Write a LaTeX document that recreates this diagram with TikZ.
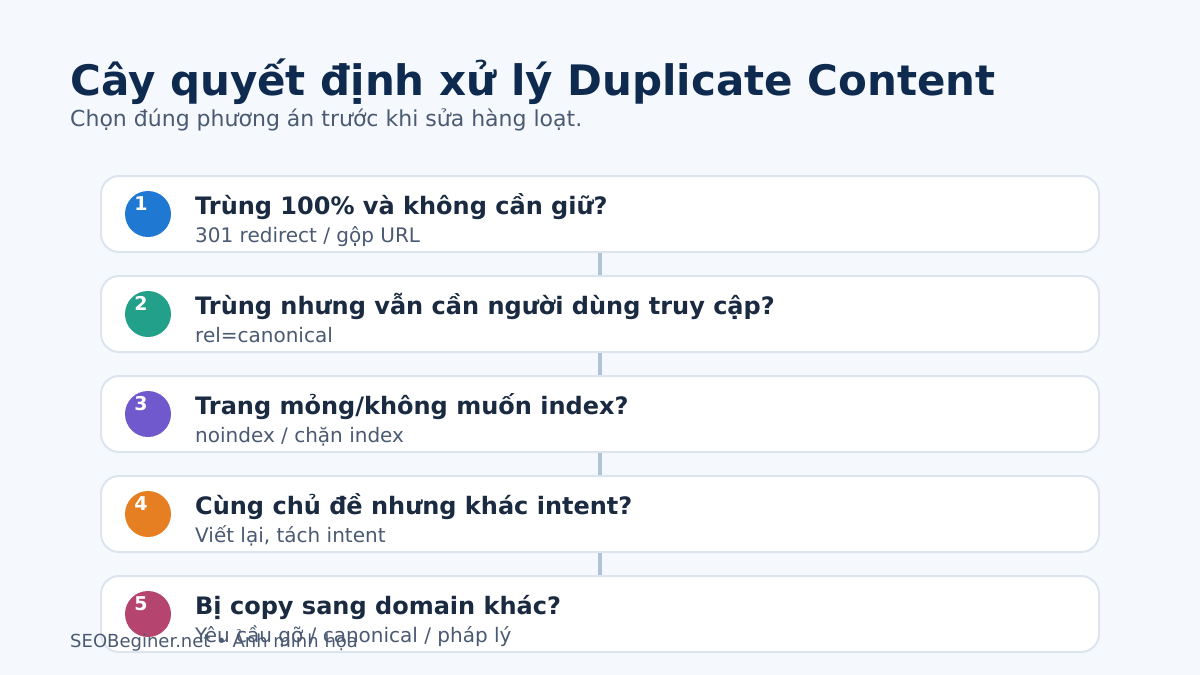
\documentclass[tikz,border=0pt]{standalone}
\usepackage{fontspec}
\setmainfont{DejaVu Sans}
\definecolor{bgc}{HTML}{F5F9FD}
\definecolor{titlec}{HTML}{0F2A4F}
\definecolor{subc}{HTML}{4A5A72}
\definecolor{headc}{HTML}{1A2A40}
\definecolor{edgec}{HTML}{DCE5EF}
\definecolor{linkc}{HTML}{AFC3D7}
\definecolor{bluec}{HTML}{1F78D1}
\definecolor{tealc}{HTML}{22A08A}
\definecolor{purplec}{HTML}{7059CC}
\definecolor{orangec}{HTML}{E67E22}
\definecolor{pinkc}{HTML}{B5446E}

\begin{document}
\begin{tikzpicture}[x=1pt,y=-1pt,
  card/.style={draw=edgec, line width=2pt, fill=white, rounded corners=18pt,
    minimum width=998pt, minimum height=76pt, inner sep=0pt},
  badge/.style={circle, minimum size=46pt, inner sep=0pt},
  num/.style={anchor=base, text=white, font=\fontsize{19}{19}\selectfont\bfseries, inner sep=0pt},
  head/.style={anchor=base west, text=headc, font=\fontsize{24}{26}\selectfont\bfseries, inner sep=0pt},
  note/.style={anchor=base west, text=subc, font=\fontsize{20}{22}\selectfont, inner sep=0pt},
  link/.style={draw=linkc, line width=3.5pt}]
\useasboundingbox[fill=bgc] (0,0) rectangle (1200,675);
% heading
\node[anchor=base west, text=titlec, font=\fontsize{42}{48}\selectfont\bfseries, inner sep=0pt] (title) at (70,95) {Cây quyết định xử lý Duplicate Content};
\node[anchor=base west, text=subc, font=\fontsize{22}{26}\selectfont, inner sep=0pt] (subtitle) at (70,126) {Chọn đúng phương án trước khi sửa hàng loạt.};
% cards
\node[card] (c1) at (600,214) {};
\node[card] (c2) at (600,314) {};
\node[card] (c3) at (600,414) {};
\node[card] (c4) at (600,514) {};
\node[card] (c5) at (600,614) {};
\draw[link] (c1.south) -- (c2.north);
\draw[link] (c2.south) -- (c3.north);
\draw[link] (c3.south) -- (c4.north);
\draw[link] (c4.south) -- (c5.north);
% badges
\node[badge, fill=bluec] (b1) at (148,214) {};
\node[num] at (141,210) {1};
\node[badge, fill=tealc] (b2) at (148,314) {};
\node[num] at (141,310) {2};
\node[badge, fill=purplec] (b3) at (148,414) {};
\node[num] at (141,410) {3};
\node[badge, fill=orangec] (b4) at (148,514) {};
\node[num] at (141,510) {4};
\node[badge, fill=pinkc] (b5) at (148,614) {};
\node[num] at (141,610) {5};
% texts
\node[head] (h1) at (195,214) {Trùng 100\% và không cần giữ?};
\node[note] (n1) at (195,242) {301 redirect / gộp URL};
\node[head] (h2) at (195,314) {Trùng nhưng vẫn cần người dùng truy cập?};
\node[note] (n2) at (195,342) {rel=canonical};
\node[head] (h3) at (195,414) {Trang mỏng/không muốn index?};
\node[note] (n3) at (195,442) {noindex / chặn index};
\node[head] (h4) at (195,514) {Cùng chủ đề nhưng khác intent?};
\node[note] (n4) at (195,542) {Viết lại, tách intent};
\node[head] (h5) at (195,614) {Bị copy sang domain khác?};
\node[note] (n5) at (195,642) {Yêu cầu gỡ / canonical / pháp lý};
% footer
\node[anchor=base west, text=subc, font=\fontsize{18}{20}\selectfont, inner sep=0pt] (footer) at (70,647) {SEOBeginer.net • Ảnh minh họa};
\end{tikzpicture}
\end{document}
